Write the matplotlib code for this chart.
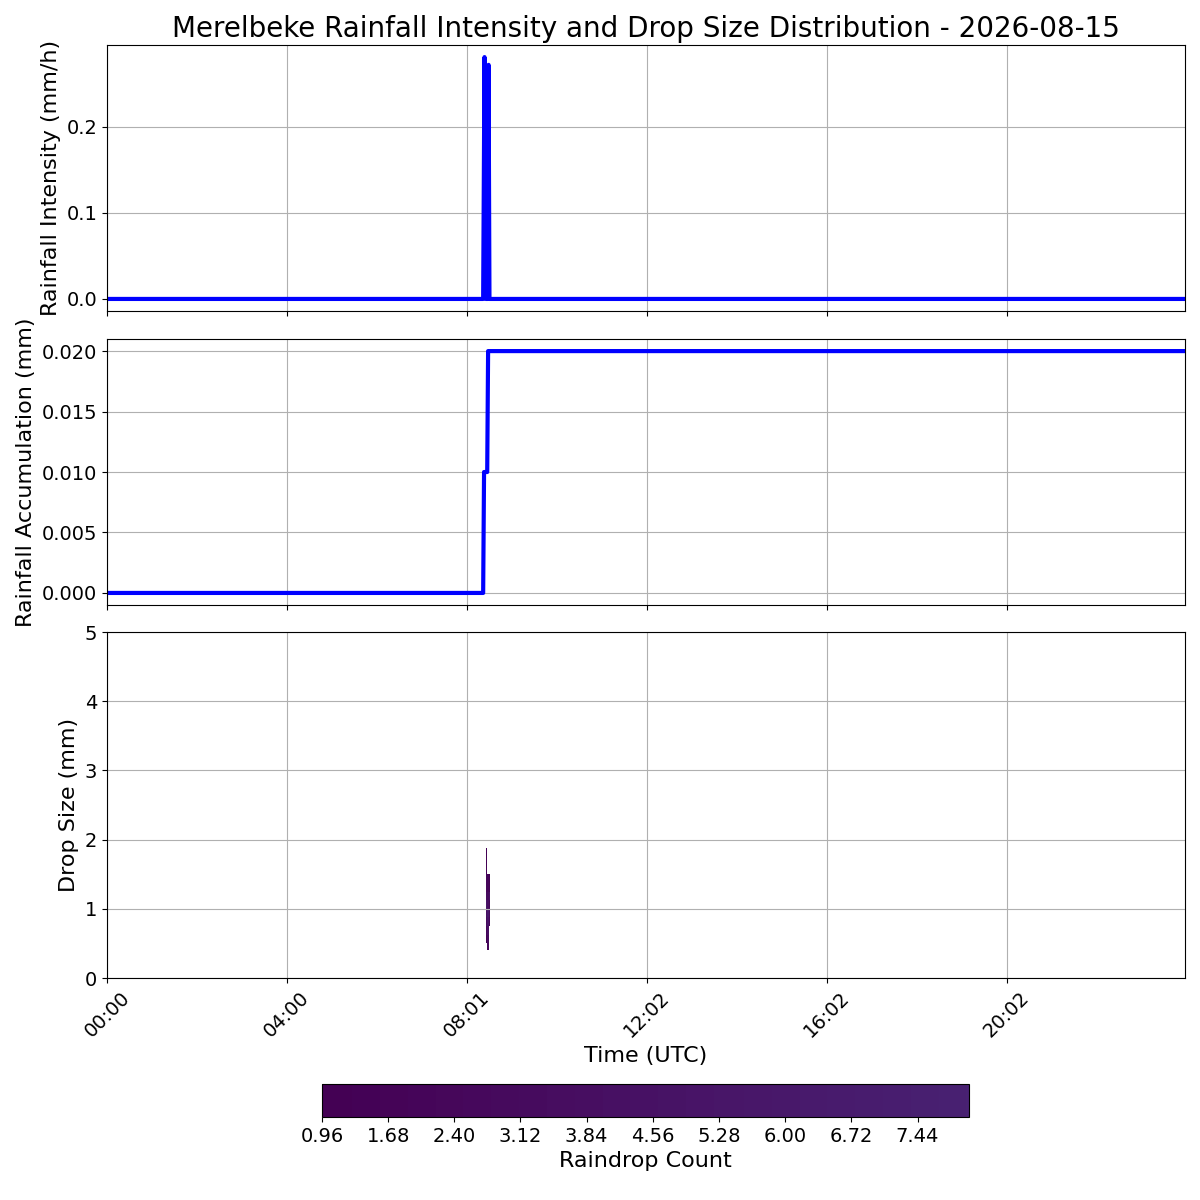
import numpy as np
import matplotlib
matplotlib.use("Agg")
import matplotlib.pyplot as plt
from matplotlib.colors import ListedColormap

# rainfall intensity (mm/h), time in hours UTC
rain_time = [0.0, 8.36, 8.39, 8.42, 8.46, 8.48, 8.50, 23.96]
rain_rate = [0.0, 0.0, 0.281, 0.0, 0.0, 0.272, 0.0, 0.0]

# accumulated rainfall (mm)
acc_time = [0.0, 8.36, 8.38, 8.45, 8.47, 23.96]
acc_mm = [0.0, 0.0, 0.01, 0.01, 0.02, 0.02]

# drop size distribution (counts per size class and minute)
dsd_time_edges = [8.43, 8.455, 8.48, 8.505]
dsd_size_edges = [0.4, 0.5, 0.625, 0.75, 0.875, 1.0, 1.125, 1.25, 1.5, 1.75, 1.88]
dsd_counts = [
    [np.nan, 2, np.nan],
    [1, 3, np.nan],
    [2, 4, np.nan],
    [3, 5, 2],
    [4, 6, 3],
    [5, 4, 2],
    [3, 3, 4],
    [2, 2, 1],
    [1, np.nan, np.nan],
    [1, np.nan, np.nan],
]

tick_hours = [0, 4, 8, 12, 16, 20]
tick_labels = ["00:00", "04:00", "08:01", "12:02", "16:02", "20:02"]
cbar_ticks = [0.96, 1.68, 2.40, 3.12, 3.84, 4.56, 5.28, 6.00, 6.72, 7.44]

cmap = ListedColormap(plt.cm.viridis(np.linspace(0, 0.09, 256)))

fig = plt.figure(figsize=(12, 12), dpi=100)
ax1 = fig.add_axes([0.0892, 0.7408, 0.8983, 0.2217])
ax2 = fig.add_axes([0.0892, 0.4958, 0.8983, 0.2217], sharex=ax1)
ax3 = fig.add_axes([0.0892, 0.185, 0.8983, 0.2883], sharex=ax1)
cax = fig.add_axes([0.2683, 0.0692, 0.5392, 0.0275])

ax1.plot(rain_time, rain_rate, color="blue", linewidth=3)
ax1.set_ylabel("Rainfall Intensity (mm/h)", fontsize=16)
ax1.set_title("Merelbeke Rainfall Intensity and Drop Size Distribution - 2026-08-15", fontsize=20)

ax2.plot(acc_time, acc_mm, color="blue", linewidth=3)
ax2.set_ylabel("Rainfall Accumulation (mm)", fontsize=16)

mesh = ax3.pcolormesh(dsd_time_edges, dsd_size_edges, np.ma.masked_invalid(np.array(dsd_counts, dtype=float)),
                      cmap=cmap, vmin=0.96, vmax=8.0, shading="flat")
ax3.set_ylim(0, 5)
ax3.set_ylabel("Drop Size (mm)", fontsize=16)
ax3.set_xlabel("Time (UTC)", fontsize=16)

ax1.set_xlim(0, 23.96)
ax3.set_xticks(tick_hours)
ax3.set_xticklabels(tick_labels, rotation=45)

for ax in (ax1, ax2, ax3):
    ax.grid(True)
    ax.tick_params(labelsize=14)
plt.setp(ax1.get_xticklabels(), visible=False)
plt.setp(ax2.get_xticklabels(), visible=False)

cb = fig.colorbar(mesh, cax=cax, orientation="horizontal", ticks=cbar_ticks)
cb.ax.set_xticklabels([f"{t:.2f}" for t in cbar_ticks])
cb.ax.tick_params(labelsize=14)
cb.set_label("Raindrop Count", fontsize=16)

fig.savefig("out.png", dpi=100)
